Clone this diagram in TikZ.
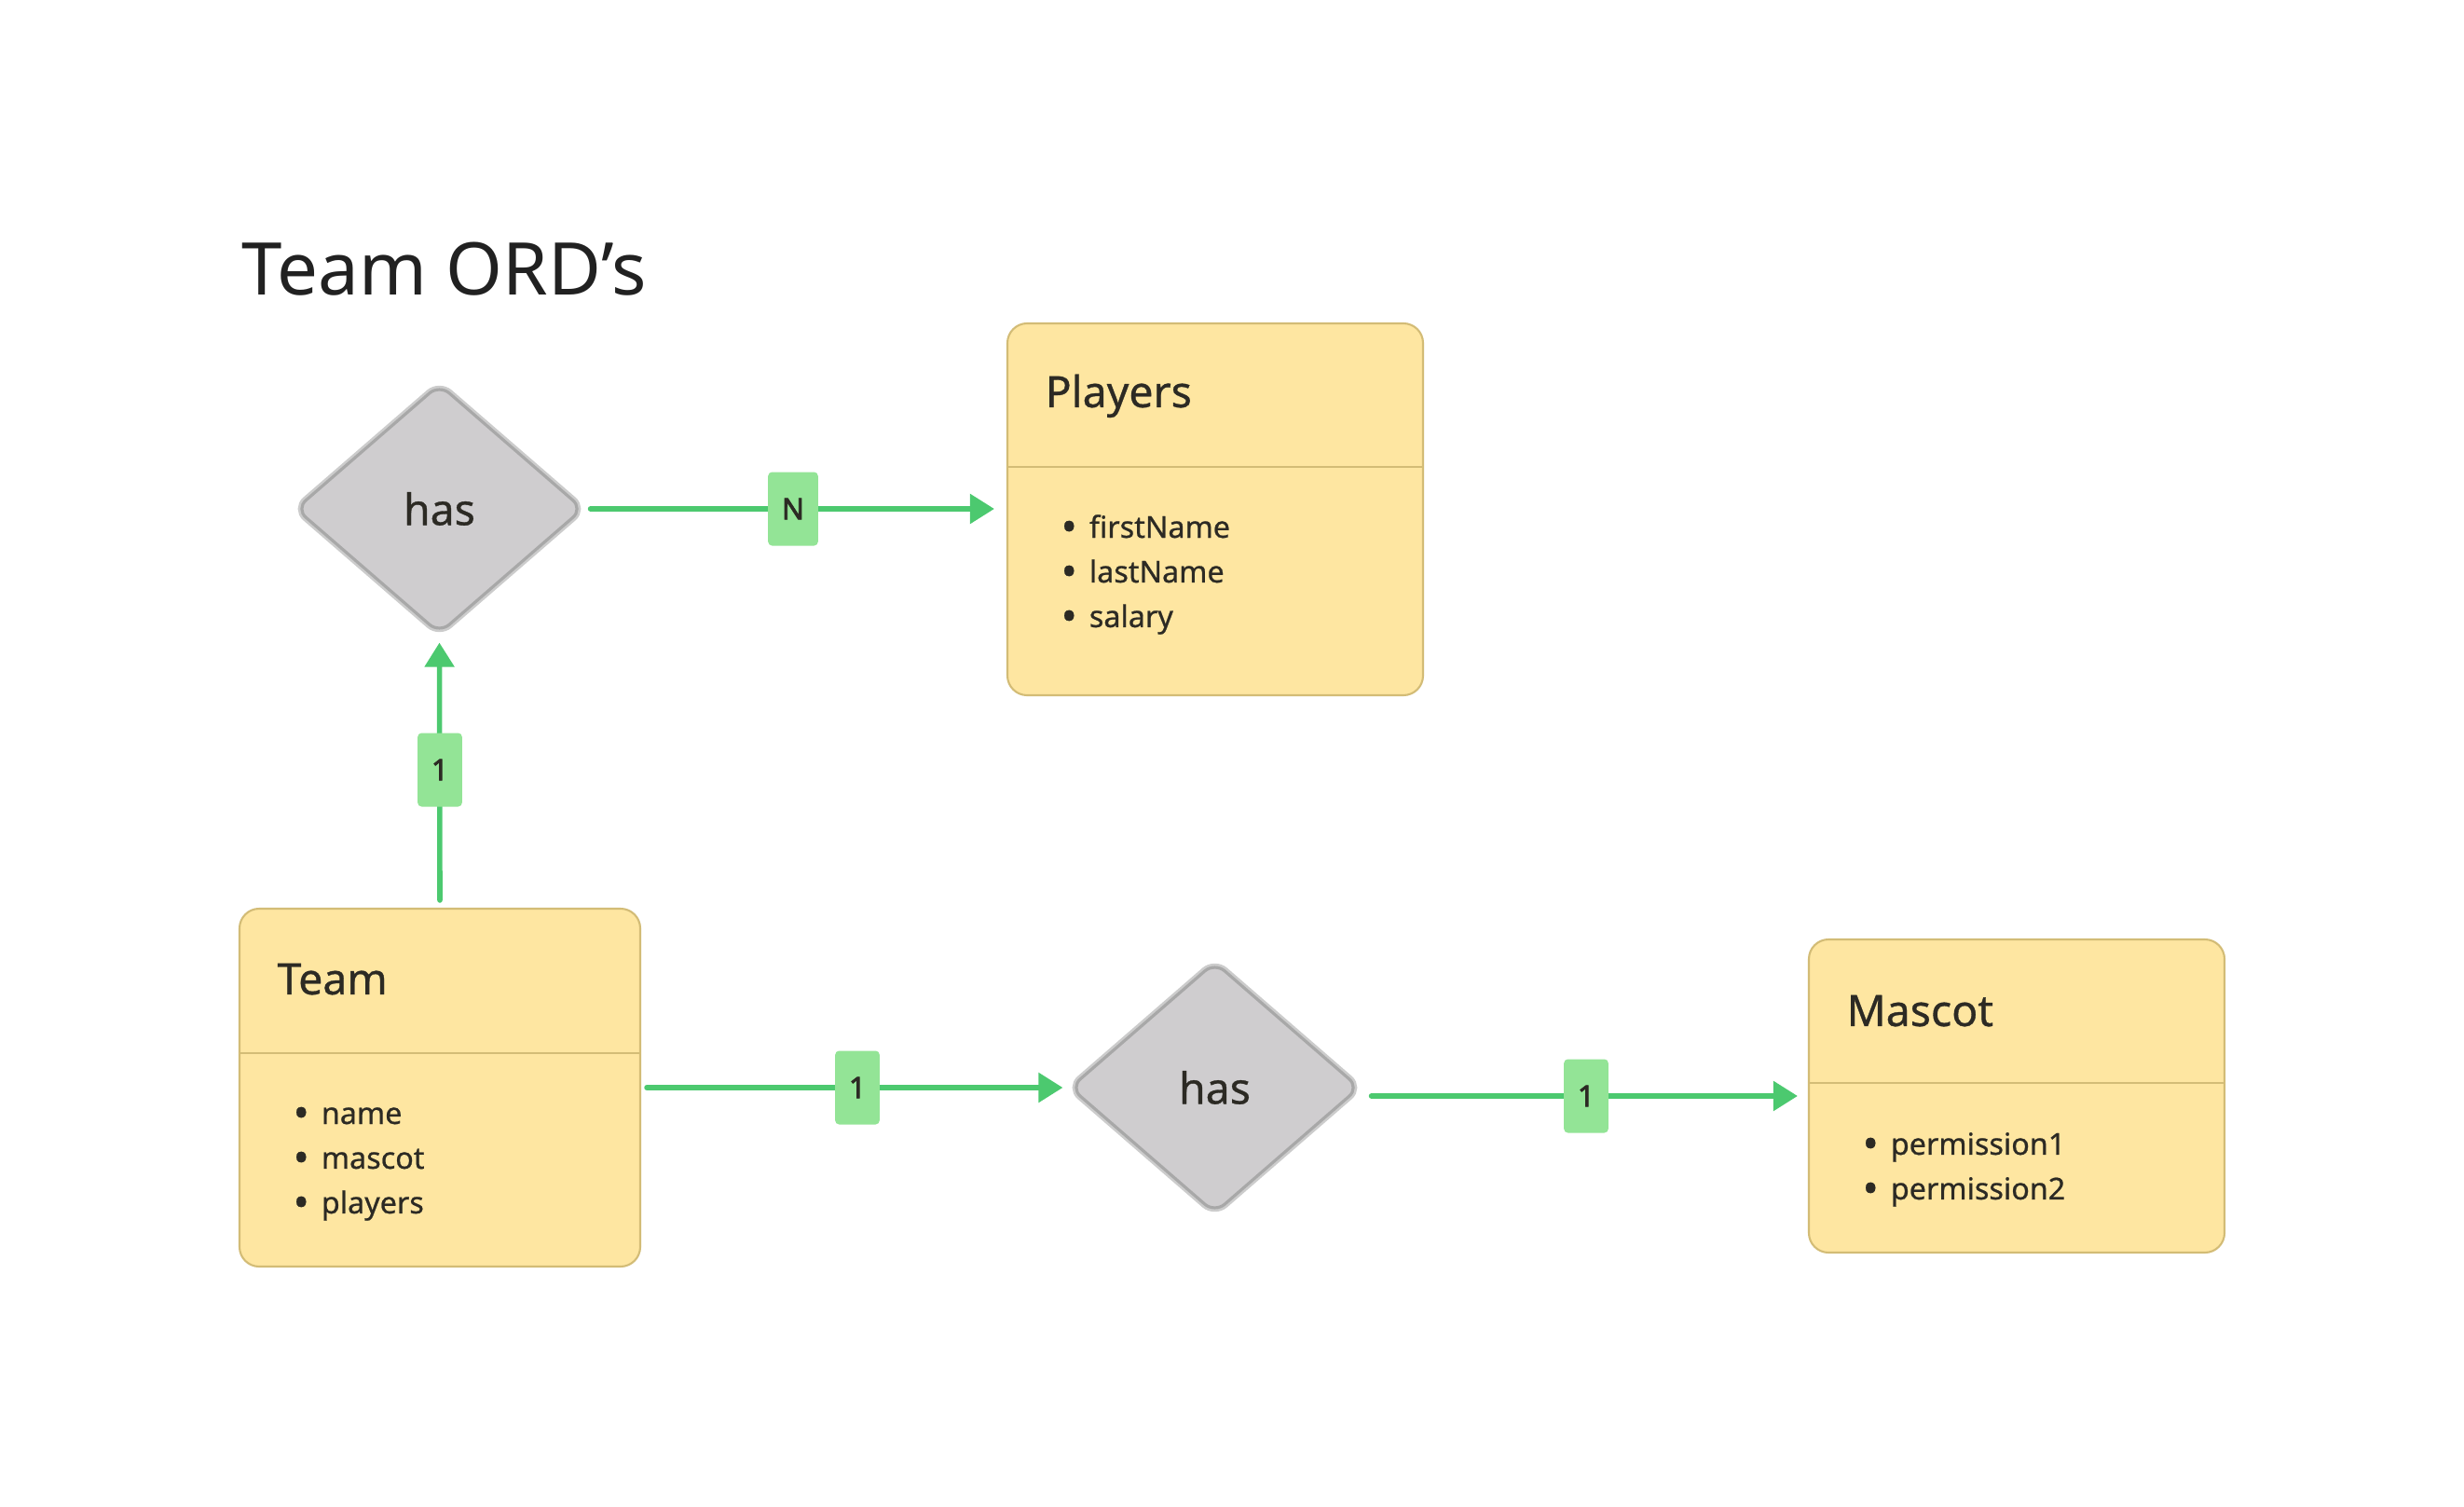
\documentclass[tikz,border=0pt]{standalone}
\usepackage{fontspec}
\setmainfont{Noto Sans}[AutoFakeBold=2.6]
\newfontfamily\medfont{Noto Sans}[FakeBold=0.7]
\usetikzlibrary{shapes.geometric, arrows.meta}
\definecolor{entfill}{HTML}{FEE6A1}
\definecolor{entline}{HTML}{D3BC76}
\definecolor{relfill}{HTML}{CFCDCF}
\definecolor{relline}{HTML}{A8A8A8}
\definecolor{relhalo}{HTML}{CCCCCC}
\definecolor{wiregreen}{HTML}{4CC96F}
\definecolor{cardfill}{HTML}{93E496}
\definecolor{ink}{HTML}{2C2A24}
\tikzset{
  ent/.style  = {draw=entline, fill=entfill, line width=0.6pt, rounded corners=6pt,
                 rectangle, inner sep=0pt},
  sep/.style  = {draw=entline, line width=0.6pt},
  rel/.style  = {diamond, fill=relfill, draw=relline, line width=0.9pt,
                 rounded corners=4pt, inner sep=0pt, text=ink,
                 font=\medfont\fontsize{13.2}{16}\selectfont,
                 preaction={draw=relhalo, line width=2.4pt}},
  ttl/.style  = {anchor=base west, inner sep=0pt, text=ink,
                 font=\medfont\fontsize{13.2}{16}\selectfont},
  attr/.style = {anchor=base west, inner sep=0pt, align=left, text=ink,
                 font=\medfont\fontsize{9.2}{13.65}\selectfont},
  card/.style = {fill=cardfill, rounded corners=1.2pt, inner xsep=4.2pt,
                 inner ysep=0pt, minimum height=0.79cm, text=ink,
                 font=\fontsize{9}{11}\selectfont\bfseries},
  wire/.style = {-{Triangle[length=7.4pt, width=8.8pt]}, draw=wiregreen,
                 line width=1.6pt, line cap=round},
}
\newcommand{\itm}[1]{\makebox[8.6pt][l]{\raisebox{-1.2pt}{\fontsize{13}{13}\selectfont •}}#1}

\begin{document}
\begin{tikzpicture}
  \useasboundingbox (0,0) rectangle (26.44,-16.17);

  % ===== title ==========================================================
  \node[anchor=base west, inner sep=0pt, text=black!87,
        font=\fontsize{22.2}{27}\selectfont] (title) at (2.59,-3.17) {Team ORD’s};

  % ===== entities =======================================================
  \node[ent, minimum width=4.46cm, minimum height=3.99cm] (players) at (13.04,-5.465) {};
  \node[ent, minimum width=4.30cm, minimum height=3.84cm] (team)    at ( 4.72,-11.67) {};
  \node[ent, minimum width=4.46cm, minimum height=3.36cm] (mascot)  at (21.64,-11.76) {};

  \draw[sep] ([yshift=-1.55cm]players.north west) -- ([yshift=-1.55cm]players.north east);
  \draw[sep] ([yshift=-1.56cm]team.north west)    -- ([yshift=-1.56cm]team.north east);
  \draw[sep] ([yshift=-1.55cm]mascot.north west)  -- ([yshift=-1.55cm]mascot.north east);

  \node[ttl] (playersT) at ([xshift=0.41cm, yshift=-0.91cm]players.north west) {Players};
  \node[ttl] (teamT)    at ([xshift=0.41cm, yshift=-0.93cm]team.north west)    {Team};
  \node[ttl] (mascotT)  at ([xshift=0.41cm, yshift=-0.94cm]mascot.north west)  {Mascot};

  % base of a list = baseline of its last line
  \node[attr] (playersA) at ([xshift=0.58cm, yshift=-3.27cm]players.north west)
        {\itm{firstName}\\ \itm{lastName}\\ \itm{salary}};
  \node[attr] (teamA)    at ([xshift=0.58cm, yshift=-3.28cm]team.north west)
        {\itm{name}\\ \itm{mascot}\\ \itm{players}};
  \node[attr] (mascotA)  at ([xshift=0.58cm, yshift=-2.80cm]mascot.north west)
        {\itm{permission1}\\ \itm{permission2}};

  % ===== relationships ==================================================
  \node[rel, minimum width=3.09cm, minimum height=2.68cm] (hasP) at ( 4.715,-5.46) {has};
  \node[rel, minimum width=3.11cm, minimum height=2.70cm] (hasM) at (13.035,-11.67) {has};

  % ===== connectors =====================================================
  \draw[wire, shorten <=0.06cm, shorten >=0.13cm] (hasP.east) -- (players.west |- hasP.east);
  \node[card] (cN) at (8.51,-5.46) {N};

  \draw[wire, shorten <=0.08cm, shorten >=0.08cm] (team.north) -- (hasP.south);
  \node[card] (cT) at (4.72,-8.26) {1};

  \draw[wire, shorten <=0.06cm, shorten >=0.06cm] (team.east |- hasM.west) -- (hasM.west);
  \node[card] (cM) at (9.20,-11.67) {1};

  \draw[wire, shorten <=0.11cm, shorten >=0.11cm] (hasM.east |- mascot.west) -- (mascot.west);
  \node[card] (cX) at (17.02,-11.76) {1};

\end{tikzpicture}
\end{document}
